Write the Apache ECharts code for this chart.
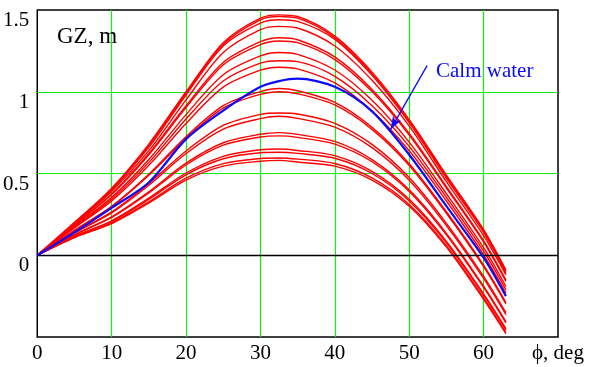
<!DOCTYPE html>
<html>
<head>
<meta charset="utf-8">
<script src="https://cdn.jsdelivr.net/npm/echarts@6/dist/echarts.min.js"></script>
<style>
  html, body { margin: 0; padding: 0; background: #fff; }
  #chart { width: 593px; height: 367px; }
</style>
</head>
<body>
<div id="chart"></div>
<script>
// heel angle, deg
var phi = [0, 5, 10, 15, 20, 25, 30, 32.5, 35, 40, 45, 50, 55, 60, 63];

// GZ in waves (red), highest to lowest
var r1  = [0, 0.20, 0.41, 0.68, 1.00, 1.30, 1.45, 1.47, 1.46, 1.34, 1.12, 0.83, 0.49, 0.157, -0.09];
var r2  = [0, 0.20, 0.40, 0.67, 0.99, 1.29, 1.44, 1.46, 1.45, 1.33, 1.11, 0.82, 0.48, 0.15, -0.10];
var r3  = [0, 0.19, 0.40, 0.66, 0.98, 1.28, 1.42, 1.44, 1.43, 1.32, 1.10, 0.81, 0.47, 0.14, -0.11];
var r4  = [0, 0.19, 0.39, 0.64, 0.95, 1.24, 1.38, 1.40, 1.39, 1.28, 1.07, 0.79, 0.45, 0.12, -0.12];
var r5  = [0, 0.185, 0.375, 0.622, 0.914, 1.179, 1.306, 1.33, 1.318, 1.213, 1.014, 0.745, 0.42, 0.089, -0.152];
var r6  = [0, 0.183, 0.371, 0.615, 0.903, 1.164, 1.288, 1.31, 1.30, 1.197, 1.001, 0.735, 0.411, 0.08, -0.16];
var r7  = [0, 0.176, 0.354, 0.586, 0.86, 1.104, 1.219, 1.24, 1.229, 1.133, 0.948, 0.692, 0.376, 0.046, -0.191];
var r8  = [0, 0.171, 0.343, 0.568, 0.833, 1.066, 1.175, 1.19, 1.184, 1.094, 0.915, 0.666, 0.354, 0.025, -0.211];
var r9  = [0, 0.167, 0.332, 0.55, 0.806, 1.028, 1.132, 1.15, 1.14, 1.054, 0.882, 0.639, 0.332, 0.003, -0.23];
var r10 = [0, 0.153, 0.30, 0.496, 0.725, 0.915, 1.001, 1.02, 1.006, 0.935, 0.783, 0.56, 0.266, -0.061, -0.289];
var r11 = [0, 0.151, 0.296, 0.489, 0.714, 0.90, 0.984, 1.00, 0.988, 0.919, 0.77, 0.549, 0.257, -0.069, -0.297];
var r12 = [0, 0.138, 0.265, 0.439, 0.638, 0.794, 0.862, 0.87, 0.864, 0.807, 0.678, 0.475, 0.195, -0.129, -0.351];
var r13 = [0, 0.136, 0.259, 0.428, 0.622, 0.772, 0.836, 0.85, 0.837, 0.784, 0.658, 0.459, 0.182, -0.142, -0.363];
var r14 = [0, 0.125, 0.235, 0.388, 0.563, 0.688, 0.74, 0.75, 0.739, 0.696, 0.585, 0.40, 0.134, -0.189, -0.406];
var r15 = [0, 0.124, 0.231, 0.381, 0.552, 0.673, 0.723, 0.73, 0.721, 0.68, 0.572, 0.39, 0.125, -0.197, -0.414];
var r16 = [0, 0.115, 0.211, 0.349, 0.503, 0.605, 0.645, 0.65, 0.641, 0.609, 0.513, 0.342, 0.085, -0.236, -0.449];
var r17 = [0, 0.114, 0.207, 0.342, 0.492, 0.59, 0.627, 0.63, 0.623, 0.593, 0.50, 0.332, 0.076, -0.244, -0.457];
var r18 = [0, 0.110, 0.198, 0.327, 0.471, 0.56, 0.592, 0.595, 0.588, 0.561, 0.473, 0.311, 0.059, -0.261, -0.472];
var r19 = [0, 0.108, 0.194, 0.32, 0.46, 0.545, 0.575, 0.58, 0.57, 0.545, 0.46, 0.30, 0.05, -0.27, -0.48];

// calm water (blue)
var calm = [0, 0.14, 0.29, 0.445, 0.71, 0.885, 1.03, 1.065, 1.08, 1.03, 0.88, 0.615, 0.30, -0.015, -0.25];

var yLabels = [0, 0.5, 1, 1.5];
var xName = 'ϕ, deg';

var waves = [r1, r2, r3, r4, r5, r6, r7, r8, r9, r10, r11, r12, r13, r14, r15, r16, r17, r18, r19];
var serif = '"Liberation Serif", "DejaVu Serif", serif';

var pairs = function (ys) {
    return phi.map(function (x, i) { return [x, ys[i]]; });
};

var series = waves.map(function (ys) {
    return {
        type: 'line',
        data: pairs(ys),
        smooth: 0.3,
        symbol: 'none',
        silent: true,
        lineStyle: { color: '#ff0000', width: 1.4 }
    };
});

series.push({
    type: 'line',
    data: pairs(calm),
    smooth: 0.3,
    symbol: 'none',
    silent: true,
    z: 5,
    lineStyle: { color: '#0a0aff', width: 2.2 },
    markLine: {
        silent: true,
        symbol: ['none', 'arrow'],
        symbolSize: [7, 13],
        label: { show: false },
        lineStyle: { color: '#0a0aff', width: 1.3, type: 'solid' },
        data: [
            [{ coord: [52.4, 1.16] }, { coord: [47.5, 0.77] }]
        ]
    }
});

// black zero line
series.push({
    type: 'line',
    data: [],
    markLine: {
        silent: true,
        symbol: 'none',
        label: { show: false },
        lineStyle: { color: '#000', width: 1.3, type: 'solid' },
        data: [{ yAxis: 0 }]
    }
});

var chart = echarts.init(document.getElementById('chart'), null, { renderer: 'canvas' });
chart.setOption({
    animation: false,
    backgroundColor: '#fff',
    title: [
        { text: 'GZ, m', left: 52, top: 20, textStyle: { fontFamily: serif, fontSize: 23, fontWeight: 'normal', color: '#000' } },
        { text: 'Calm water', left: 431, top: 56, textStyle: { fontFamily: serif, fontSize: 21, fontWeight: 'normal', color: '#0a0aff' } }
    ],
    grid: { left: 37, right: 35, top: 10, bottom: 30, show: true, borderColor: '#000', borderWidth: 1.5, backgroundColor: 'transparent' },
    xAxis: {
        type: 'value',
        min: 0,
        max: 70,
        interval: 10,
        axisLine: { show: false },
        axisTick: { show: false },
        splitLine: { show: true, showMinLine: false, showMaxLine: false, lineStyle: { color: '#11ee11', width: 1.2 } },
        axisLabel: {
            margin: 6,
            fontFamily: serif,
            fontSize: 21,
            color: '#000',
            formatter: function (v) { return v === 70 ? xName : String(v); }
        }
    },
    yAxis: {
        type: 'value',
        min: -0.5,
        max: 1.5,
        interval: 0.5,
        axisLine: { show: false },
        axisTick: { show: false },
        splitLine: { show: true, showMinLine: false, showMaxLine: false, lineStyle: { color: '#11ee11', width: 1.2 } },
        axisLabel: {
            margin: 8,
            fontFamily: serif,
            fontSize: 21,
            color: '#000',
            verticalAlign: 'top',
            formatter: function (v) { return yLabels.indexOf(v) >= 0 ? String(v) : ''; }
        }
    },
    series: series
});
</script>
</body>
</html>
